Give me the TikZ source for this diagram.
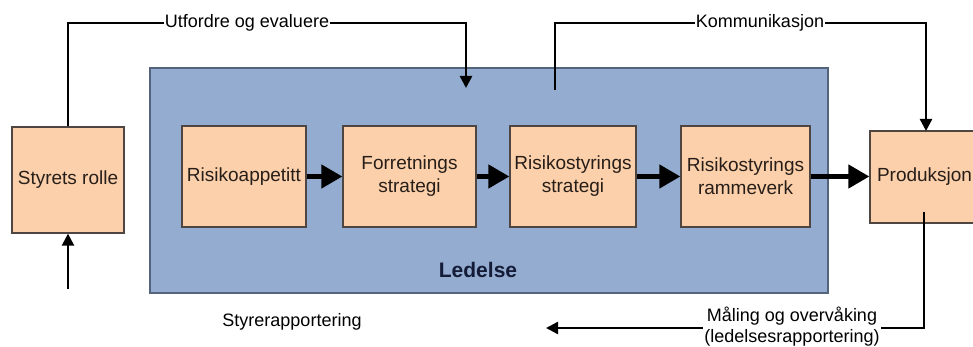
\documentclass[tikz,border=0pt]{standalone}
\usepackage{fontspec}
\setmainfont{Liberation Sans}
\usetikzlibrary{arrows.meta,calc}
\definecolor{peach}{RGB}{251,208,170}
\definecolor{boxline}{RGB}{80,70,65}
\definecolor{ledblue}{RGB}{148,172,207}
\definecolor{ledline}{RGB}{85,100,125}
\definecolor{navy}{RGB}{20,28,55}
\definecolor{boxtext}{RGB}{40,30,25}
\begin{document}
\begin{tikzpicture}[x=1pt,y=-1pt,
  stepbox/.style={draw=boxline,fill=peach,line width=1.3pt,align=center,inner sep=2pt,
    text=boxtext,font=\fontsize{19}{23}\selectfont},
  conn/.style={line width=2.4pt,-{Triangle[length=12pt,width=12pt]}},
  thick arrow/.style={line width=4.5pt,-{Triangle[length=21pt,width=23pt]}},
  lbl/.style={fill=white,inner sep=1pt,align=center,font=\fontsize{18}{21}\selectfont}]
\useasboundingbox (0,0) rectangle (973,347);
\clip (0,0) rectangle (973,347);
\fill[white] (0,0) rectangle (973,347);
% Ledelse area
\node[draw=ledline,fill=ledblue,line width=1.3pt,minimum width=678pt,minimum height=225pt,inner sep=0pt] (led) at (489,180.5) {};
\node[font=\fontsize{21}{25}\selectfont\bfseries,text=navy] (ledtxt) at (478,270) {Ledelse};
% boxes
\node[stepbox,minimum width=112pt,minimum height=106pt] (styret) at (68,180) {Styrets rolle};
\node[stepbox,minimum width=124pt,minimum height=101pt] (risk) at (244,176.5) {Risikoappetitt};
\node[stepbox,minimum width=133pt,minimum height=101pt] (forr) at (409.5,176.5) {Forretnings\\strategi};
\node[stepbox,minimum width=126pt,minimum height=101pt] (rstrat) at (573,176.5) {Risikostyrings\\strategi};
\node[stepbox,minimum width=129pt,minimum height=101pt] (ramme) at (745.5,176.5) {Risikostyrings\\rammeverk};
\node[stepbox,minimum width=115pt,minimum height=92pt,inner xsep=7pt,text width=101pt,align=left] (prod) at (927.5,177) {Produksjon};
% thick arrows
\draw[thick arrow] (risk.east) -- (forr.west);
\draw[thick arrow] (forr.east) -- (rstrat.west);
\draw[thick arrow] (rstrat.east) -- (ramme.west);
\draw[thick arrow] (ramme.east) -- (ramme.east -| prod.west);
% Utfordre og evaluere
\coordinate (uend) at (466,88);
\draw[conn] (styret.north) -- (styret.north |- 0,23) -| (uend);
\node[lbl] (utf) at (247,23) {Utfordre og evaluere};
% Kommunikasjon
\coordinate (kstart) at (555,90);
\coordinate (kend) at (926,131);
\draw[conn] (kstart) -- (kstart |- 0,23) -| (kend);
\node[lbl] (komm) at (760,23) {Kommunikasjon};
% Maling og overvaking
\coordinate (mstart) at (924,212);
\coordinate (mend) at (546,328);
\draw[conn] (mstart) |- (mend);
\node[lbl] (maal) at (792,327) {Måling og overvåking\\(ledelsesrapportering)};
% Styrerapportering
\coordinate (sb) at (68,289);
\draw[conn] (sb) -- (styret.south);
\node[font=\fontsize{18}{21}\selectfont] (styrerap) at (292,322) {Styrerapportering};
\end{tikzpicture}
\end{document}
